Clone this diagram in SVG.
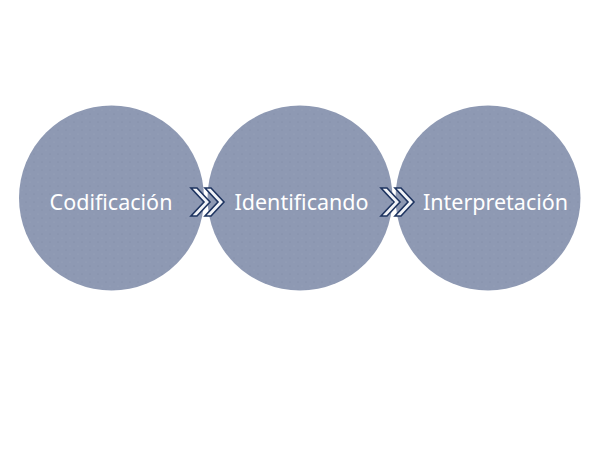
<svg xmlns="http://www.w3.org/2000/svg" width="600" height="450" viewBox="0 0 600 450">
<defs>
<pattern id="dots" width="8" height="8" patternUnits="userSpaceOnUse">
<rect width="8" height="8" fill="#8E99B3"/>
<circle cx="2" cy="2" r="0.6" fill="#7F8AA6"/>
<circle cx="6" cy="6" r="0.6" fill="#9AA4BC"/>
</pattern>
<g id="chev">
<polygon points="0,0 6,0 19,14 6,28 0,28 13,14"/>
<polygon points="14,0 20,0 33,14 20,28 14,28 27,14"/>
</g>
</defs>
<style>
.node circle{fill:url(#dots);}
.node text{font-family:"Noto Sans","Lato",sans-serif;font-size:21.5px;fill:#FFFFFF;text-anchor:middle;font-variant-ligatures:none;}
.conn use{fill:#F2F4F8;stroke:#1E3460;stroke-width:1.6;stroke-linejoin:miter;}
</style>
<rect width="600" height="450" fill="#FFFFFF"/>
<g id="n1" class="node"><circle cx="111.5" cy="198" r="92.5"/><text x="111" y="210">Codificación</text></g>
<g id="n2" class="node"><circle cx="300" cy="198" r="92.5"/><text x="301.5" y="210">Identificando</text></g>
<g id="n3" class="node"><circle cx="488" cy="198" r="92.5"/><text x="495.5" y="210">Interpretación</text></g>
<g id="connectors" class="conn">
<use href="#chev" x="191" y="188"/>
<use href="#chev" x="381" y="188"/>
</g>
</svg>
